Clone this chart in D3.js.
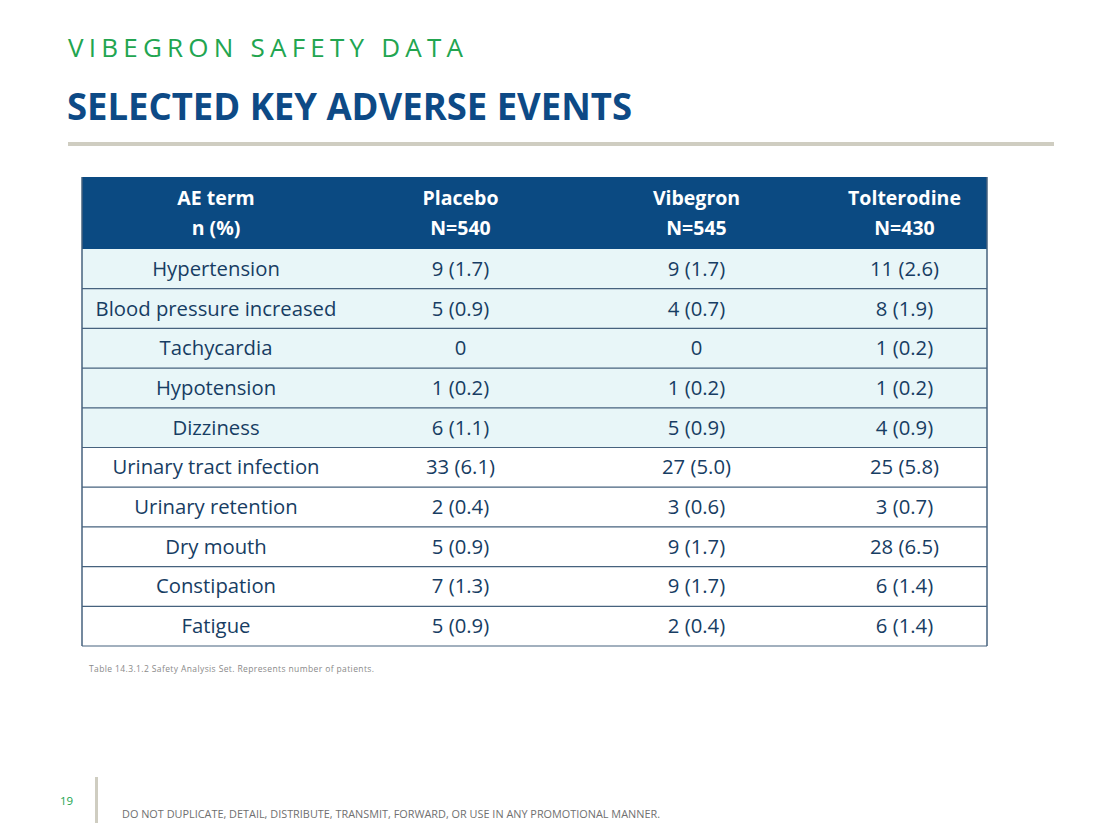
<!DOCTYPE html>
<html><head><meta charset="utf-8">
<script src="https://cdn.jsdelivr.net/npm/d3@7"></script>
<style>body{margin:0;background:#fff}svg{display:block}</style>
</head><body>
<script>
const headers = [["AE term","n (%)"],["Placebo","N=540"],["Vibegron","N=545"],["Tolterodine","N=430"]];
const terms = ["Hypertension","Blood pressure increased","Tachycardia","Hypotension","Dizziness","Urinary tract infection","Urinary retention","Dry mouth","Constipation","Fatigue"];
const placebo = ["9 (1.7)","5 (0.9)","0","1 (0.2)","6 (1.1)","33 (6.1)","2 (0.4)","5 (0.9)","7 (1.3)","5 (0.9)"];
const vibegron = ["9 (1.7)","4 (0.7)","0","1 (0.2)","5 (0.9)","27 (5.0)","3 (0.6)","9 (1.7)","9 (1.7)","2 (0.4)"];
const tolterodine = ["11 (2.6)","8 (1.9)","1 (0.2)","1 (0.2)","4 (0.9)","25 (5.8)","3 (0.7)","28 (6.5)","6 (1.4)","6 (1.4)"];
const shaded = [true,true,true,true,true,false,false,false,false,false];

const W=1120,H=840;
const svg=d3.select("body").append("svg").attr("width",W).attr("height",H);
const font="'Open Sans', 'DejaVu Sans', sans-serif";

svg.append("text").attr("x",68).attr("y",57).attr("fill","#22a550")
  .attr("font-family",font).attr("font-size",26)
  .attr("textLength",395).attr("lengthAdjust","spacing")
  .text("VIBEGRON SAFETY DATA");
svg.append("text").attr("x",67).attr("y",120).attr("fill","#0d4a86")
  .attr("font-family",font).attr("font-weight",700).attr("font-size",37)
  .attr("textLength",565).attr("lengthAdjust","spacingAndGlyphs")
  .text("SELECTED KEY ADVERSE EVENTS");
svg.append("rect").attr("x",68).attr("y",142).attr("width",986).attr("height",4).attr("fill","#cfcdc1");

// table
const cols=[82,350,571,822,987];
const x=d3.scaleOrdinal().domain([0,1,2,3]).range([0,1,2,3].map(i=>(cols[i]+cols[i+1])/2));
const headTop=177, headBot=249;
const y=d3.scaleBand().domain(d3.range(terms.length)).range([headBot,646]);

svg.append("rect").attr("x",cols[0]).attr("y",headTop).attr("width",cols[4]-cols[0]).attr("height",headBot-headTop).attr("fill","#0b4a82");
headers.forEach((h,i)=>{
  const t=svg.append("text").attr("x",x(i)).attr("text-anchor","middle").attr("fill","#fff")
   .attr("font-family",font).attr("font-weight",700).attr("font-size",19.5);
  t.append("tspan").attr("x",x(i)).attr("y",205).text(h[0]);
  t.append("tspan").attr("x",x(i)).attr("y",235).text(h[1]);
});

const rows=svg.selectAll("g.row").data(terms.map((t,i)=>({i,cells:[t,placebo[i],vibegron[i],tolterodine[i]]})))
  .join("g").attr("class","row");
rows.append("rect").attr("x",cols[0]).attr("y",d=>y(d.i)).attr("width",cols[4]-cols[0]).attr("height",y.bandwidth())
  .attr("fill",d=>shaded[d.i]?"#e8f6f8":"#ffffff");
rows.selectAll("text").data(d=>d.cells.map((c,j)=>({c,j,i:d.i}))).join("text")
  .attr("x",d=>x(d.j)).attr("y",d=>y(d.i)+y.bandwidth()/2+7).attr("text-anchor","middle")
  .attr("fill","#173d63").attr("font-family",font).attr("font-size",20.3).text(d=>d.c);
// lines
terms.forEach((t,i)=>{
  svg.append("line").attr("x1",cols[0]).attr("x2",cols[4]).attr("y1",y(i)+y.bandwidth()).attr("y2",y(i)+y.bandwidth())
   .attr("stroke","#46627e").attr("stroke-width",1.2);
});
svg.append("line").attr("x1",cols[0]).attr("x2",cols[0]).attr("y1",headTop).attr("y2",646).attr("stroke","#46627e").attr("stroke-width",1.5);
svg.append("line").attr("x1",cols[4]).attr("x2",cols[4]).attr("y1",headTop).attr("y2",646).attr("stroke","#46627e").attr("stroke-width",1.5);

svg.append("text").attr("x",89).attr("y",672).attr("fill","#8a8a8a").attr("font-family",font).attr("font-size",8.5)
  .attr("textLength",285).attr("lengthAdjust","spacing")
  .text("Table 14.3.1.2 Safety Analysis Set. Represents number of patients.");

svg.append("text").attr("x",60).attr("y",805).attr("fill","#22a550").attr("font-family",font).attr("font-size",11.5).text("19");
svg.append("rect").attr("x",95).attr("y",777).attr("width",3).attr("height",46).attr("fill","#cfcdc1");
svg.append("text").attr("x",122).attr("y",818).attr("fill","#707070").attr("font-family",font).attr("font-size",10)
  .attr("textLength",538).attr("lengthAdjust","spacingAndGlyphs")
  .text("DO NOT DUPLICATE, DETAIL, DISTRIBUTE, TRANSMIT, FORWARD, OR USE IN ANY PROMOTIONAL MANNER.");
</script>
</body></html>
